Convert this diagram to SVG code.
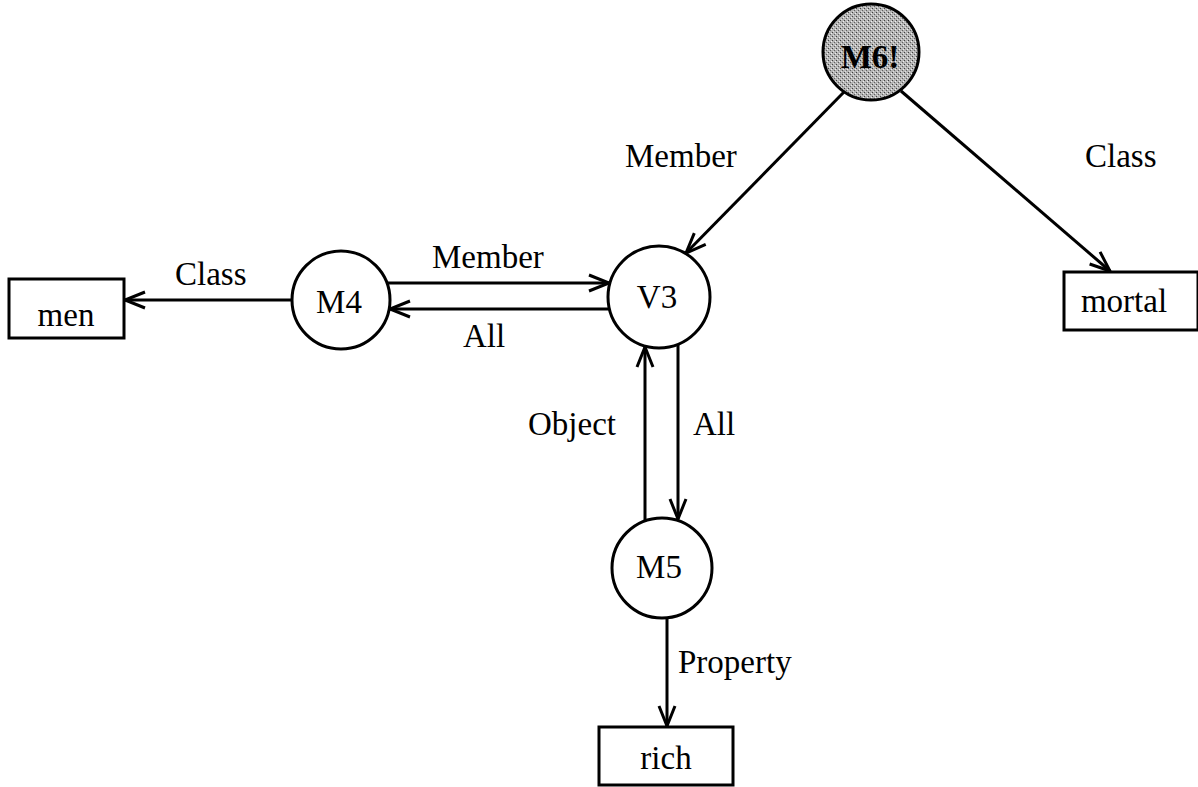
<svg xmlns="http://www.w3.org/2000/svg" width="1198" height="787" viewBox="0 0 1198 787">
  <style>
    .bg { fill: #ffffff; }
    .node circle, .node rect { fill: #ffffff; stroke: #000000; stroke-width: 3; }
    text { font-family: "Liberation Serif", "Times New Roman", serif; font-size: 33px; fill: #000000; }
    .node text { text-anchor: middle; }
    .node.asserted text { font-weight: bold; }
    .edges line { stroke: #000000; stroke-width: 3; fill: none; marker-end: url(#arrow); }
  </style>
  <defs>
    <!-- open "V" arrowhead, drawn in user units -->
    <marker id="arrow" markerUnits="userSpaceOnUse" markerWidth="30" markerHeight="24" viewBox="-22 -12 26 24" refX="0" refY="0" orient="auto">
      <path d="M-20,-8 L0,0 L-20,8" fill="none" stroke="#000000" stroke-width="3" stroke-linejoin="miter"/>
    </marker>
    <!-- fine stipple for the asserted node -->
    <pattern id="stipple" width="4" height="4" patternUnits="userSpaceOnUse">
      <rect width="4" height="4" fill="#b4b4b4"/>
      <rect x="0" y="0" width="1" height="1" fill="#404040"/>
      <rect x="2" y="2" width="1" height="1" fill="#606060"/>
      <rect x="3" y="1" width="1" height="1" fill="#f0f0f0"/>
      <rect x="1" y="3" width="1" height="1" fill="#e0e0e0"/>
    </pattern>
  </defs>

  <rect class="bg" width="1198" height="787"/>

  <g class="edges">
    <!-- M6! -> V3 (Member), M6! -> mortal (Class) -->
    <line x1="844" y1="92" x2="686" y2="253"/>
    <line x1="901" y1="91" x2="1110" y2="271"/>
    <!-- M4 -> men (Class) -->
    <line x1="292" y1="300" x2="125" y2="300"/>
    <!-- M4 -> V3 (Member), V3 -> M4 (All) -->
    <line x1="387" y1="283" x2="609" y2="283"/>
    <line x1="609" y1="309" x2="390" y2="309"/>
    <!-- M5 -> V3 (Object), V3 -> M5 (All) -->
    <line x1="645" y1="521" x2="645" y2="347"/>
    <line x1="678" y1="344" x2="678" y2="519"/>
    <!-- M5 -> rich (Property) -->
    <line x1="667" y1="618" x2="667" y2="726"/>
  </g>

  <g class="labels">
    <text x="625" y="167">Member</text>
    <text x="1085" y="167">Class</text>
    <text x="175" y="285">Class</text>
    <text x="432" y="268">Member</text>
    <text x="463" y="347">All</text>
    <text x="528" y="435">Object</text>
    <text x="693" y="435">All</text>
    <text x="678" y="673">Property</text>
  </g>

  <g id="node-M6" class="node asserted">
    <circle cx="871" cy="52" r="48" style="fill:url(#stipple)"/>
    <text x="870" y="68">M6!</text>
  </g>

  <g id="node-M4" class="node">
    <circle cx="341" cy="300" r="49"/>
    <text x="339" y="313">M4</text>
  </g>

  <g id="node-V3" class="node">
    <circle cx="659" cy="297" r="51"/>
    <text x="657" y="308">V3</text>
  </g>

  <g id="node-M5" class="node">
    <circle cx="662" cy="568" r="50"/>
    <text x="659" y="578">M5</text>
  </g>

  <g id="node-men" class="node">
    <rect x="9" y="279" width="115" height="59"/>
    <text x="66" y="326">men</text>
  </g>

  <g id="node-mortal" class="node">
    <rect x="1064" y="272" width="134" height="58"/>
    <text x="1124" y="312">mortal</text>
  </g>

  <g id="node-rich" class="node">
    <rect x="599" y="727" width="134" height="58"/>
    <text x="666" y="769">rich</text>
  </g>
</svg>
